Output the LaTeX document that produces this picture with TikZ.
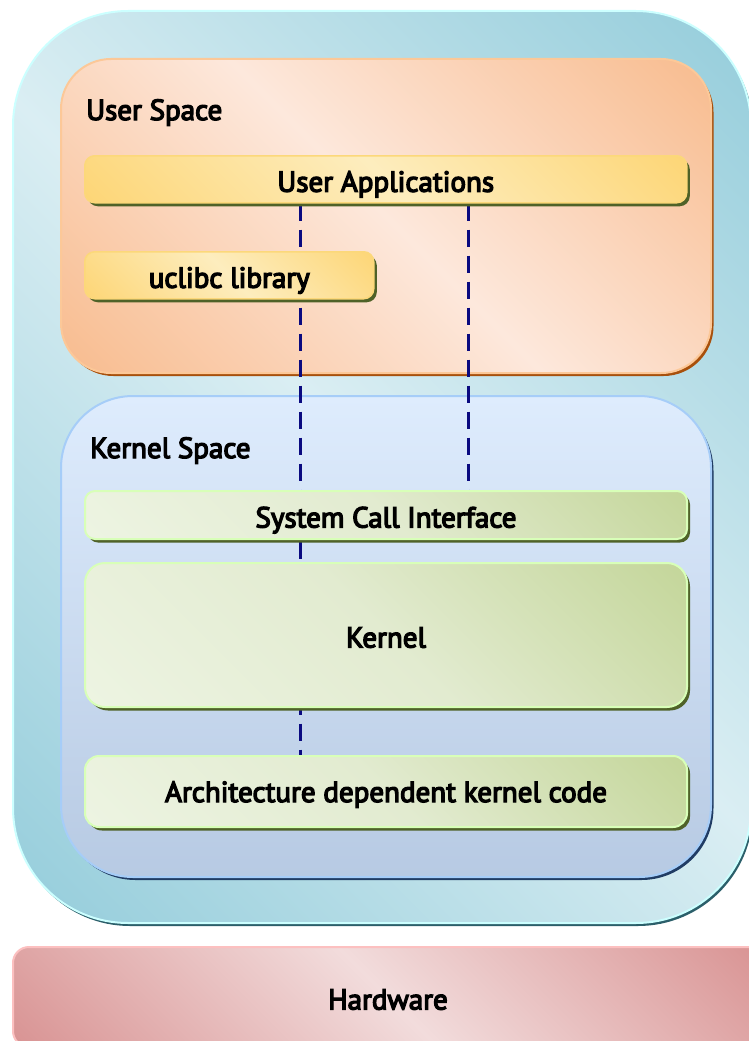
\documentclass[tikz,border=0pt]{standalone}
\usepackage{fontspec}
\setmainfont{PT Sans}[FakeBold=4.5]
\usetikzlibrary{shadows}
\pgfdeclarelayer{bg}
\pgfdeclarelayer{lines}
\pgfsetlayers{bg,lines,main}

\definecolor{tealD}{HTML}{95CDDB}
\definecolor{tealL}{HTML}{DAEEF3}
\definecolor{tealB}{HTML}{CCFFFF}
\definecolor{tealS}{HTML}{2B5F6A}
\definecolor{orD}{HTML}{F8BC8F}
\definecolor{orL}{HTML}{FDE8DC}
\definecolor{orB}{HTML}{FCC898}
\definecolor{orS}{HTML}{A8500C}
\definecolor{blT}{HTML}{DEECFD}
\definecolor{blB}{HTML}{B7CAE3}
\definecolor{blBd}{HTML}{A6CDF8}
\definecolor{blS}{HTML}{203C64}
\definecolor{yeD}{HTML}{FDD677}
\definecolor{yeL}{HTML}{FDEDBE}
\definecolor{yeB}{HTML}{FCD87A}
\definecolor{grL}{HTML}{EDF4E2}
\definecolor{grM}{HTML}{E2EBD0}
\definecolor{grD}{HTML}{C4D69A}
\definecolor{grB}{HTML}{D8FFB8}
\definecolor{olS}{HTML}{4F6228}
\definecolor{pkD}{HTML}{D99494}
\definecolor{pkL}{HTML}{F2DCDC}
\definecolor{pkB}{HTML}{FCC0C0}
\definecolor{navy}{HTML}{0A0A80}

\pgfdeclarehorizontalshading{tealsh}{100bp}{color(0bp)=(tealD); color(15bp)=(tealD); color(50bp)=(tealL); color(85bp)=(tealD); color(100bp)=(tealD)}
\pgfdeclarehorizontalshading{orsh}{100bp}{color(0bp)=(orD); color(15bp)=(orD); color(50bp)=(orL); color(85bp)=(orD); color(100bp)=(orD)}
\pgfdeclarehorizontalshading{pksh}{100bp}{color(0bp)=(pkD); color(15bp)=(pkD); color(50bp)=(pkL); color(85bp)=(pkD); color(100bp)=(pkD)}
\pgfdeclarehorizontalshading{yesh}{100bp}{color(0bp)=(yeD); color(15bp)=(yeD); color(50bp)=(yeL); color(85bp)=(yeD); color(100bp)=(yeD)}
\pgfdeclarehorizontalshading{grsh}{100bp}{color(0bp)=(grL); color(15bp)=(grL); color(50bp)=(grM); color(85bp)=(grD); color(100bp)=(grD)}

\tikzset{
  txt/.style={font=\fontsize{29}{31}\selectfont, text=black},
  frame/.style={anchor=north west, inner sep=0pt, txt, text height=25pt, text depth=0pt},
  outerbox/.style={frame, rounded corners=115pt, shade, shading=tealsh, shading angle=45,
    draw=tealB, line width=2pt,
    drop shadow={shadow xshift=2pt, shadow yshift=-3pt, fill=tealS, opacity=1}},
  userbox/.style={frame, rounded corners=50pt, shade, shading=orsh, shading angle=45,
    draw=orB, line width=2pt,
    drop shadow={shadow xshift=2.5pt, shadow yshift=-3pt, fill=orS, opacity=1}},
  kernbox/.style={frame, rounded corners=72pt, top color=blT, bottom color=blB,
    draw=blBd, line width=2pt,
    drop shadow={shadow xshift=2.5pt, shadow yshift=-3pt, fill=blS, opacity=1}},
  yebox/.style={frame, rounded corners=10pt, shade, shading=yesh, shading angle=45,
    draw=yeB, line width=1.5pt,
    drop shadow={shadow xshift=3pt, shadow yshift=-3.5pt, fill=olS, opacity=1}},
  grbox/.style={frame, rounded corners=14pt, shade, shading=grsh, shading angle=45,
    draw=grB, line width=2pt,
    drop shadow={shadow xshift=3pt, shadow yshift=-3.5pt, fill=olS, opacity=1}},
  hwbox/.style={frame, rounded corners=16pt, shade, shading=pksh, shading angle=45,
    draw=pkB, line width=2pt},
  dashline/.style={draw=navy, line width=3pt, dash pattern=on 17pt off 9pt}
}

\begin{document}
\begin{tikzpicture}[x=1pt,y=-1pt]
\useasboundingbox (0,0) rectangle (749,1041);
\clip (0,0) rectangle (749,1041);

\begin{pgfonlayer}{bg}
\fill[white] (0,0) rectangle (749,1041);
\node[outerbox, minimum width=738pt, minimum height=912pt] (outer) at (12,10) {};
\node[userbox, minimum width=650pt, minimum height=314pt] (user) at (60,58) {};
\node[kernbox, minimum width=650pt, minimum height=481pt] (kspace) at (60,395) {};
\end{pgfonlayer}

\node[txt, anchor=base west, inner sep=0pt] (userlbl) at (86,120) {User Space};
\node[txt, anchor=base west, inner sep=0pt] (kernlbl) at (90,458) {Kernel Space};

\node[yebox, minimum width=602pt, minimum height=47pt] (apps) at (84,155) {User Applications};
\node[yebox, minimum width=289pt, minimum height=47pt] (libc) at (84,251) {uclibc library};
\node[grbox, minimum width=602pt, minimum height=48pt, rounded corners=10pt] (sci) at (84,490) {System Call Interface};
\node[grbox, minimum width=602pt, minimum height=144pt, rounded corners=20pt] (kernel) at (84,562) {Kernel};
\node[grbox, minimum width=602pt, minimum height=71pt, text height=21pt] (arch) at (84,755) {Architecture dependent kernel code};
\node[hwbox, minimum width=750pt, minimum height=100pt] (hw) at (12,946) {Hardware};

\coordinate (lx) at (300,0);
\coordinate (rx) at (468,0);
\begin{pgfonlayer}{lines}
\draw[dashline] (apps.south -| lx) -- (arch.north -| lx);
\draw[dashline] (apps.south -| rx) -- (sci.north -| rx);
\end{pgfonlayer}
\end{tikzpicture}
\end{document}
